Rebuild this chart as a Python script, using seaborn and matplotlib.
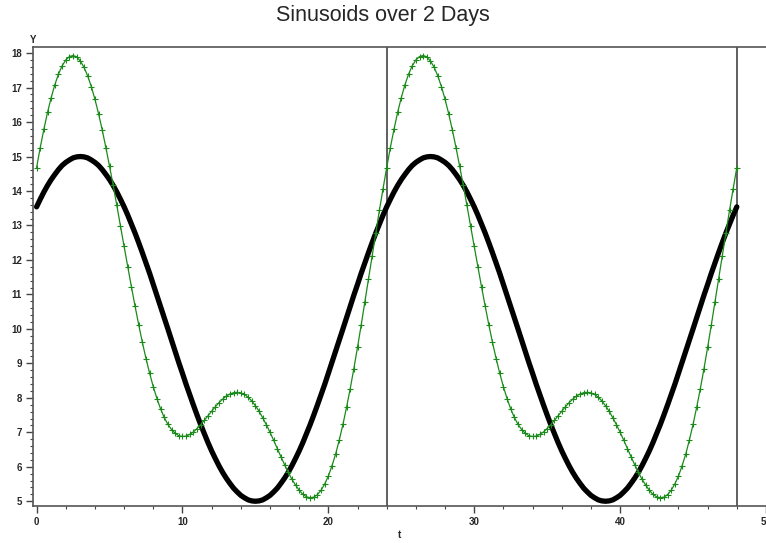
import numpy as np
import pandas as pd
import matplotlib
matplotlib.use("Agg")
import matplotlib.pyplot as plt
from matplotlib.ticker import MultipleLocator
import seaborn as sns

# time in hours, 0..48 every quarter hour
t = np.arange(0, 48.25, 0.25)

# black curve (one harmonic), two identical days plus the closing point
black = [
    13.54, 13.76, 13.97, 14.16, 14.33, 14.48, 14.62, 14.74,
    14.83, 14.90, 14.96, 14.99, 15.00, 14.99, 14.96, 14.90,
    14.83, 14.74, 14.62, 14.48, 14.33, 14.16, 13.97, 13.76,
    13.54, 13.30, 13.04, 12.78, 12.50, 12.21, 11.91, 11.61,
    11.29, 10.98, 10.65, 10.33, 10.00, 9.67, 9.35, 9.02,
    8.71, 8.39, 8.09, 7.79, 7.50, 7.22, 6.96, 6.70,
    6.46, 6.24, 6.03, 5.84, 5.67, 5.52, 5.38, 5.27,
    5.17, 5.10, 5.04, 5.01, 5.00, 5.01, 5.04, 5.10,
    5.17, 5.27, 5.38, 5.52, 5.67, 5.84, 6.03, 6.24,
    6.46, 6.70, 6.96, 7.22, 7.50, 7.79, 8.09, 8.39,
    8.71, 9.02, 9.35, 9.67, 10.00, 10.33, 10.65, 10.98,
    11.29, 11.61, 11.91, 12.21, 12.50, 12.78, 13.04, 13.30,
    13.54, 13.76, 13.97, 14.16, 14.33, 14.48, 14.62, 14.74,
    14.83, 14.90, 14.96, 14.99, 15.00, 14.99, 14.96, 14.90,
    14.83, 14.74, 14.62, 14.48, 14.33, 14.16, 13.97, 13.76,
    13.54, 13.30, 13.04, 12.78, 12.50, 12.21, 11.91, 11.61,
    11.29, 10.98, 10.65, 10.33, 10.00, 9.67, 9.35, 9.02,
    8.71, 8.39, 8.09, 7.79, 7.50, 7.22, 6.96, 6.70,
    6.46, 6.24, 6.03, 5.84, 5.67, 5.52, 5.38, 5.27,
    5.17, 5.10, 5.04, 5.01, 5.00, 5.01, 5.04, 5.10,
    5.17, 5.27, 5.38, 5.52, 5.67, 5.84, 6.03, 6.24,
    6.46, 6.70, 6.96, 7.22, 7.50, 7.79, 8.09, 8.39,
    8.71, 9.02, 9.35, 9.67, 10.00, 10.33, 10.65, 10.98,
    11.29, 11.61, 11.91, 12.21, 12.50, 12.78, 13.04, 13.30,
    13.54,
]

# green curve (two harmonics)
green = [
    14.68, 15.26, 15.79, 16.28, 16.71, 17.08, 17.39, 17.63,
    17.80, 17.90, 17.93, 17.89, 17.77, 17.59, 17.34, 17.03,
    16.66, 16.24, 15.77, 15.26, 14.72, 14.16, 13.58, 12.98,
    12.39, 11.80, 11.22, 10.66, 10.12, 9.61, 9.14, 8.71,
    8.32, 7.98, 7.68, 7.43, 7.23, 7.08, 6.97, 6.90,
    6.88, 6.89, 6.94, 7.01, 7.11, 7.22, 7.35, 7.48,
    7.61, 7.74, 7.86, 7.96, 8.05, 8.11, 8.15, 8.16,
    8.14, 8.10, 8.02, 7.91, 7.77, 7.61, 7.42, 7.22,
    7.00, 6.77, 6.53, 6.29, 6.06, 5.84, 5.64, 5.47,
    5.32, 5.20, 5.13, 5.10, 5.12, 5.19, 5.32, 5.50,
    5.73, 6.03, 6.37, 6.78, 7.23, 7.73, 8.27, 8.85,
    9.47, 10.11, 10.77, 11.44, 12.11, 12.78, 13.44, 14.07,
    14.68, 15.26, 15.79, 16.28, 16.71, 17.08, 17.39, 17.63,
    17.80, 17.90, 17.93, 17.89, 17.77, 17.59, 17.34, 17.03,
    16.66, 16.24, 15.77, 15.26, 14.72, 14.16, 13.58, 12.98,
    12.39, 11.80, 11.22, 10.66, 10.12, 9.61, 9.14, 8.71,
    8.32, 7.98, 7.68, 7.43, 7.23, 7.08, 6.97, 6.90,
    6.88, 6.89, 6.94, 7.01, 7.11, 7.22, 7.35, 7.48,
    7.61, 7.74, 7.86, 7.96, 8.05, 8.11, 8.15, 8.16,
    8.14, 8.10, 8.02, 7.91, 7.77, 7.61, 7.42, 7.22,
    7.00, 6.77, 6.53, 6.29, 6.06, 5.84, 5.64, 5.47,
    5.32, 5.20, 5.13, 5.10, 5.12, 5.19, 5.32, 5.50,
    5.73, 6.03, 6.37, 6.78, 7.23, 7.73, 8.27, 8.85,
    9.47, 10.11, 10.77, 11.44, 12.11, 12.78, 13.44, 14.07,
    14.68,
]

day_marks = [24, 48]

df = pd.DataFrame({"t": t, "black": black, "green": green})

sns.set_style("ticks")
plt.rcParams["font.family"] = ["Liberation Sans", "DejaVu Sans"]

fig = plt.figure(figsize=(7.66, 5.43), dpi=100)
ax = fig.add_axes([0.043, 0.068, 0.957, 0.845])

sns.lineplot(data=df, x="t", y="black", ax=ax, color="black", linewidth=3.8)
sns.lineplot(data=df, x="t", y="green", ax=ax, color="#1a8a1a", linewidth=0.9,
             marker="+", markersize=5, markeredgewidth=0.8,
             markeredgecolor="#1a8a1a")

for d in day_marks:
    ax.axvline(d, color="#444444", linewidth=1.2, zorder=0)

ax.set_xlim(-0.25, 50)
ax.set_ylim(4.86, 18.17)
ax.xaxis.set_major_locator(MultipleLocator(10))
ax.xaxis.set_minor_locator(MultipleLocator(2))
ax.yaxis.set_major_locator(MultipleLocator(1))
ax.yaxis.set_minor_locator(MultipleLocator(0.2))

ax.tick_params(which="major", length=5, width=1, color="#444444",
               labelsize=7, pad=3)
ax.tick_params(which="minor", length=2.5, width=0.8, color="#444444")
for lab in ax.get_xticklabels() + ax.get_yticklabels():
    lab.set_fontweight("bold")

for s in ["left", "bottom", "top"]:
    ax.spines[s].set_color("#555555")
    ax.spines[s].set_linewidth(1.2)
ax.spines["right"].set_visible(False)

ax.set_xlabel("t", fontsize=7, fontweight="bold")
ax.xaxis.set_label_coords(0.5, -0.052)
ax.set_ylabel("")
ax.text(0.0, 1.005, "Y", transform=ax.transAxes, fontsize=7,
        fontweight="bold", ha="center", va="bottom")

fig.suptitle("Sinusoids over 2 Days", fontsize=15.5, y=0.99)

fig.savefig("out.png", dpi=100)
